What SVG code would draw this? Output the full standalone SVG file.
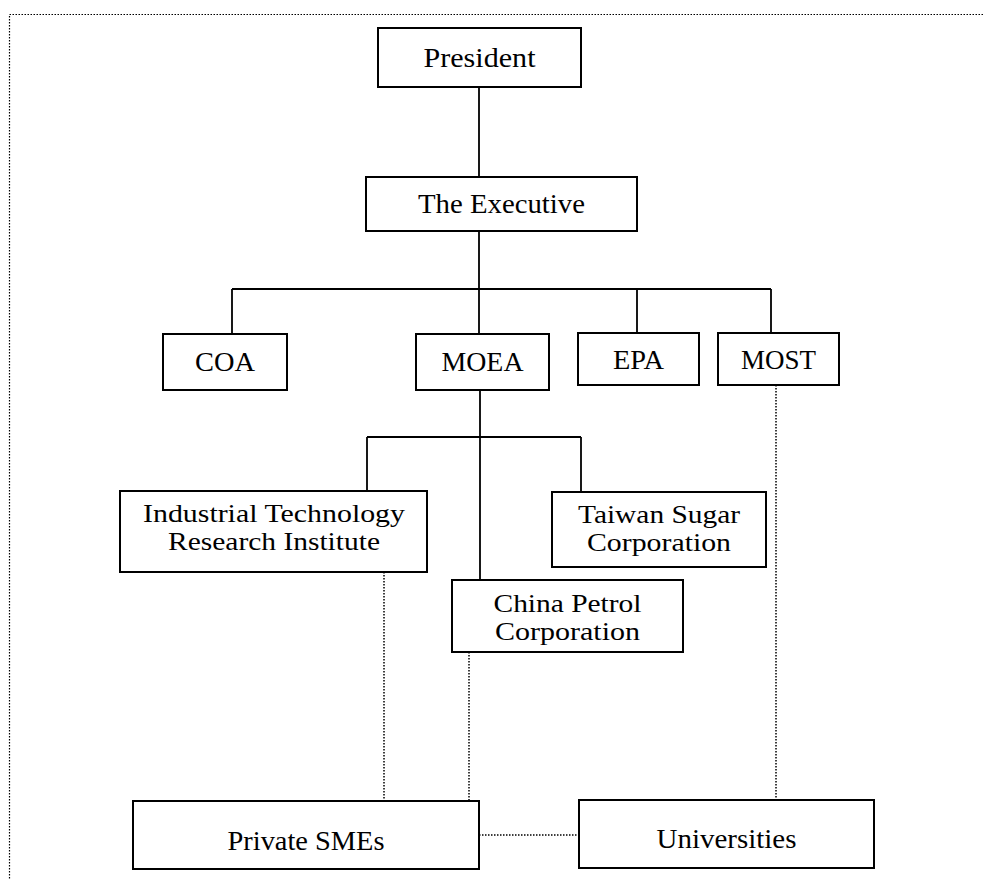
<svg xmlns="http://www.w3.org/2000/svg" width="983" height="879" viewBox="0 0 983 879">
<style>
.box{fill:#fff;stroke:#000;stroke-width:2}
.t{font-family:"Liberation Serif","Times New Roman",serif;font-size:28px;fill:#000;text-anchor:middle}
.t2{font-size:25px}
.solid{fill:none;stroke:#000;stroke-width:1.8}
.dot{fill:none;stroke:#000;stroke-width:1.5;stroke-dasharray:1.5 1.5}
.frame{fill:none;stroke:#000;stroke-width:1.2;stroke-dasharray:1.5 1.5}
</style>
<rect class="frame" x="9.5" y="14.5" width="990" height="900"/>
<g id="connectors">
<path class="solid" d="M479 87V177M479 231V289M232 289H771M232 289V334M479 289V334M637 289V333M771 289V333M480 390V580M367 437H581M367 437V491M581 437V492"/>
<path class="dot" d="M776 385V800M384 572V801M469 652V801M479 835H579"/>
</g>
<g id="president"><rect class="box" x="378" y="28" width="203" height="59"/><text class="t" x="479.5" y="67" textLength="112" lengthAdjust="spacingAndGlyphs">President</text></g>
<g id="executive"><rect class="box" x="366" y="177" width="271" height="54"/><text class="t" x="501.5" y="213" textLength="167" lengthAdjust="spacingAndGlyphs">The Executive</text></g>
<g id="coa"><rect class="box" x="163" y="334" width="124" height="56"/><text class="t" x="225" y="371" textLength="60" lengthAdjust="spacingAndGlyphs">COA</text></g>
<g id="moea"><rect class="box" x="416" y="334" width="133" height="56"/><text class="t" x="482.5" y="371" textLength="82" lengthAdjust="spacingAndGlyphs">MOEA</text></g>
<g id="epa"><rect class="box" x="578" y="333" width="121" height="52"/><text class="t" x="638.5" y="369" textLength="51" lengthAdjust="spacingAndGlyphs">EPA</text></g>
<g id="most"><rect class="box" x="718" y="333" width="121" height="52"/><text class="t" x="778.5" y="369" textLength="75" lengthAdjust="spacingAndGlyphs">MOST</text></g>
<g id="itri"><rect class="box" x="120" y="491" width="307" height="81"/><text class="t t2" x="274" y="522" textLength="262" lengthAdjust="spacingAndGlyphs">Industrial Technology</text><text class="t t2" x="274" y="550" textLength="212" lengthAdjust="spacingAndGlyphs">Research Institute</text></g>
<g id="tsc"><rect class="box" x="552" y="492" width="214" height="75"/><text class="t t2" x="659" y="523" textLength="162" lengthAdjust="spacingAndGlyphs">Taiwan Sugar</text><text class="t t2" x="659" y="551" textLength="144" lengthAdjust="spacingAndGlyphs">Corporation</text></g>
<g id="cpc"><rect class="box" x="452" y="580" width="231" height="72"/><text class="t t2" x="567.5" y="612" textLength="148" lengthAdjust="spacingAndGlyphs">China Petrol</text><text class="t t2" x="567.5" y="640" textLength="145" lengthAdjust="spacingAndGlyphs">Corporation</text></g>
<g id="smes"><rect class="box" x="133" y="801" width="346" height="68"/><text class="t" x="306" y="850" textLength="157" lengthAdjust="spacingAndGlyphs">Private SMEs</text></g>
<g id="universities"><rect class="box" x="579" y="800" width="295" height="68"/><text class="t" x="726.5" y="848" textLength="140" lengthAdjust="spacingAndGlyphs">Universities</text></g>
</svg>
